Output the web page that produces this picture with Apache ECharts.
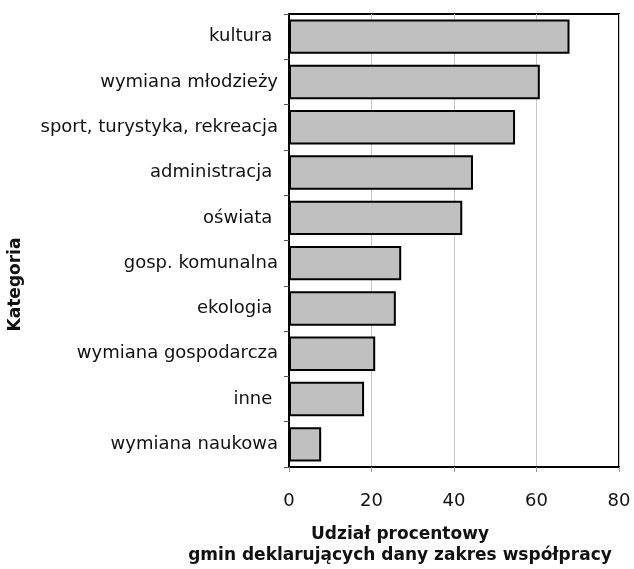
<!DOCTYPE html>
<html>
<head>
<meta charset="utf-8">
<script src="https://cdn.jsdelivr.net/npm/echarts@6/dist/echarts.min.js"></script>
<style>
html,body{margin:0;padding:0;background:#fff;}
#c{width:634px;height:569px;}
</style>
</head>
<body>
<div id="c"></div>
<script>
const categories = ["kultura ", "wymiana młodzieży", "sport, turystyka, rekreacja", "administracja ", "oświata ", "gosp. komunalna", "ekologia ", "wymiana gospodarcza", "inne ", "wymiana naukowa"];
const values = [68.0, 60.8, 54.8, 44.6, 42.0, 27.2, 25.9, 20.9, 18.2, 7.8];
const xTicks = [0, 20, 40, 60, 80];
const xName = "Udział procentowy\ngmin deklarujących dany zakres współpracy";
const yName = "Kategoria";

const chart = echarts.init(document.getElementById('c'), null, {renderer: 'canvas'});
chart.setOption({
  animation: false,
  backgroundColor: '#fff',
  grid: {
    left: 289, right: 15, top: 14, bottom: 102,
    containLabel: false,
    outerBoundsMode: 'none',
    show: true, borderColor: '#000', borderWidth: 2, backgroundColor: 'transparent'
  },
  xAxis: {
    type: 'value',
    min: xTicks[0], max: xTicks[xTicks.length - 1], interval: 20,
    axisLine: {show: true, lineStyle: {color: '#000', width: 2}},
    axisTick: {show: true, length: 5, lineStyle: {color: '#999'}},
    splitLine: {show: true, lineStyle: {color: '#c8c8c8', width: 1}},
    axisLabel: {margin: 25, fontFamily: 'DejaVu Sans', fontSize: 18, color: '#111'},
    name: xName,
    nameLocation: 'middle',
    nameGap: 57,
    nameTextStyle: {fontFamily: 'DejaVu Sans', fontWeight: 'bold', fontSize: 17, color: '#111', lineHeight: 21, padding: [0, 108, 0, 0]}
  },
  yAxis: {
    type: 'category',
    data: categories,
    inverse: true,
    axisLine: {show: true, lineStyle: {color: '#000', width: 2}},
    axisTick: {show: true, length: 5, lineStyle: {color: '#555'}},
    axisLabel: {margin: 11, fontFamily: 'DejaVu Sans', fontSize: 18, color: '#111'},
    name: yName,
    nameLocation: 'middle',
    nameGap: 265,
    nameTextStyle: {fontFamily: 'DejaVu Sans', fontWeight: 'bold', fontSize: 17, color: '#111', padding: [0, 88, 0, 0]}
  },
  series: [{
    type: 'bar',
    data: values,
    barCategoryGap: '24%',
    itemStyle: {color: '#c0c0c0', borderColor: '#000', borderWidth: 2}
  }]
});
</script>
</body>
</html>
